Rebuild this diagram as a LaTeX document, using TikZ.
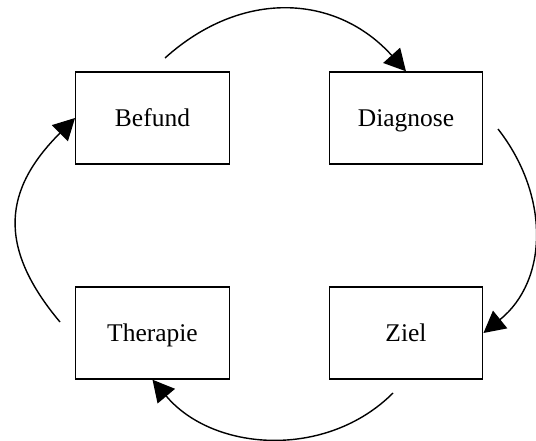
\documentclass[tikz,border=0pt]{standalone}
\usepackage{fontspec}
\setmainfont{Liberation Serif}
\usetikzlibrary{arrows.meta}

\begin{document}
\begin{tikzpicture}[>={Triangle[length=4.3mm,width=4.5mm]},
   box/.style={rectangle, draw, line width=0.8pt, minimum width=3.07cm, minimum height=1.84cm,
     text height=12pt, text depth=2.4pt, font=\fontsize{14.5}{17}\selectfont},
   arc/.style={line width=0.8pt}]
   \useasboundingbox (0,0) rectangle (10.72,8.8);
   \node (befund) at (3.05,6.44) [box] {Befund};
   \node (diagnose) at (8.12,6.44) [box] {Diagnose};
   \node (therapie) at (3.05,2.14) [box] {Therapie};
   \node (ziel) at (8.12,2.14) [box] {Ziel};
   \coordinate (s1) at (3.30,7.64);
   \coordinate (s2) at (9.96,6.22);
   \coordinate (s3) at (7.86,0.94);
   \coordinate (s4) at (1.20,2.36);
   \draw [->, arc] (s1) to [out=42, in=132, looseness=1.1] (diagnose.north);
   \draw [->, arc] (s2) to [out=-52, in=39, looseness=1.05] (ziel.east);
   \draw [->, arc] (s3) to [out=-135, in=-50] (therapie.south);
   \draw [->, arc] (s4) to [out=130, in=-135, looseness=1.25] (befund.west);
\end{tikzpicture}
\end{document}
